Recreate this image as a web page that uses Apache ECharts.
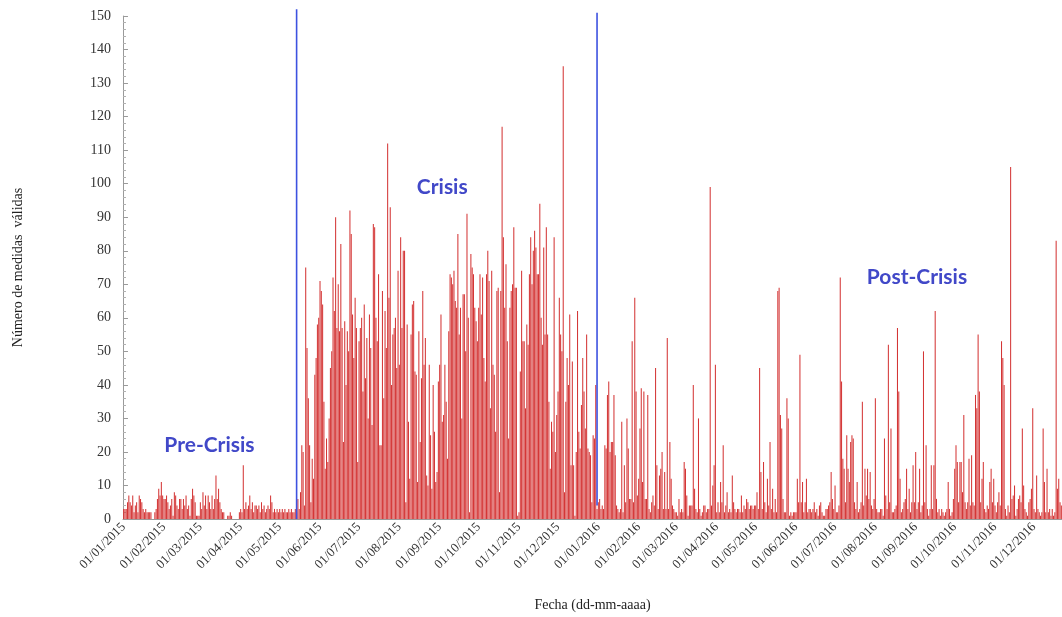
<!DOCTYPE html>
<html>
<head>
<meta charset="utf-8">
<script src="https://cdn.jsdelivr.net/npm/echarts@6/dist/echarts.min.js"></script>
<style>
html,body{margin:0;padding:0;background:#ffffff;overflow:hidden;width:100%;height:100%;}
#chart{width:100vw;height:100vh;}
</style>
</head>
<body>
<div id="chart"></div>
<script>
const jan15 = [3,3,3,5,7,5,4,7,2,4, 5,2,7,6,5,3,2,3,2,2, 2,2,0,0,2,3,6,9,7,11,7];
const feb15 = [6,6,7,5,3,4,6,1,8,7, 4,3,6,6,3,6,4,7,3,4, 1,6,9,7,5,1,1,1];
const mar15 = [5,3,8,4,7,3,7,5,3,7, 3,6,13,6,9,5,3,2,2,0, 0,1,1,2,1,0,0,0,0,0, 2];
const apr15 = [3,2,16,3,5,3,4,7,3,5, 2,4,4,3,4,2,5,3,4,2, 3,4,3,7,5,2,3,2,3,2];
const may15 = [3,2,3,2,3,2,2,3,2,3, 2,2,3,2,6,3,8,22,20,4, 75,51,36,22,5,18,12,43,48,58, 60];
const jun15 = [71,68,64,35,15,24,17,30,45,50, 72,62,90,57,70,56,82,57,23,59, 40,56,50,92,85,61,48,66,57,17];
const jul15 = [53,57,60,38,64,42,54,30,61,51, 28,88,87,60,53,73,22,22,68,36, 62,51,112,66,93,40,55,57,60,45, 74];
const aug15 = [46,84,57,80,80,5,58,29,12,55, 64,65,44,43,11,56,23,42,68,46, 54,13,10,46,25,9,40,26,11,14, 41];
const sep15 = [46,61,29,31,46,35,18,56,73,72, 70,74,65,63,85,55,63,30,67,67, 50,91,60,2,79,75,73,63,59,53];
const oct15 = [63,73,61,72,48,41,73,80,71,33, 74,46,43,26,68,69,8,68,117,84, 63,76,53,24,63,68,70,87,69,69, 1];
const nov15 = [2,44,74,53,53,33,58,52,73,84, 70,80,86,81,73,73,94,60,52,81, 55,87,55,35,15,29,26,84,20,31];
const dec15 = [38,66,55,50,135,8,35,48,40,61, 16,47,16,1,20,62,26,21,34,48, 38,27,55,21,20,19,5,25,24,40, 3];
const jan16 = [5,6,3,4,3,22,21,37,41,20, 23,23,37,19,4,3,2,3,29,2, 16,5,30,21,6,6,53,5,66,38, 7];
const feb16 = [12,27,39,11,38,6,6,37,3,2, 5,7,4,45,16,3,13,15,20,3, 14,3,54,3,23,12,4,3,2];
const mar16 = [2,1,6,2,3,2,17,15,7,1, 4,4,4,40,9,3,2,30,3,1, 2,4,4,2,3,3,99,4,10,16, 46];
const apr16 = [2,5,2,11,5,22,2,4,8,2, 3,2,13,5,3,2,3,3,2,7, 2,4,3,6,5,3,4,4,3,4];
const may16 = [4,8,3,45,14,3,17,5,2,12, 4,23,3,9,2,6,2,68,69,31, 27,6,2,2,36,30,1,2,1,2, 2];
const jun16 = [2,12,5,49,5,11,2,5,12,2, 3,3,2,3,5,2,3,1,4,5, 2,1,1,3,3,4,5,14,6,3];
const jul16 = [10,2,2,4,72,41,18,15,5,25, 15,11,23,25,24,5,3,11,2,3, 5,35,4,15,7,15,6,14,4,3, 6];
const aug16 = [36,3,2,2,3,3,1,24,7,3, 52,5,27,2,2,3,4,57,38,12, 2,3,5,6,15,3,9,2,5,16, 5];
const sep16 = [20,3,5,15,2,4,50,5,22,3, 1,3,16,3,16,62,6,2,3,1, 3,2,1,2,3,11,3,1,2,6];
const oct16 = [15,22,17,5,17,17,8,31,5,3, 5,18,4,19,5,4,37,33,55,38, 5,12,17,3,2,4,3,11,15,5, 12];
const nov16 = [4,2,5,8,4,53,48,40,3,1, 4,2,105,6,7,10,1,3,6,7, 5,27,10,3,2,1,5,6,9,33];
const dec16 = [3,2,13,3,2,1,2,27,11,2, 15,2,3,1,3,1,2,83,9,12, 5,4]; // visible part only

// ---- Axis settings ----
const yMin = 0, yMax = 150, yStep = 10;
const firstDay = [2015, 0, 1]; // 01/01/2015

// ---- Phase separators and labels ----
const phaseBreaks = [
  { date: '14/05/2015', from: 0, to: 152 },
  { date: '31/12/2015', from: 4, to: 151 }
];
const phaseLabels = [
  { text: 'Pre-Crisis',  date: '08/03/2015', value: 22 },
  { text: 'Crisis',      date: '03/09/2015', value: 99 },
  { text: 'Post-Crisis', date: '02/09/2016', value: 72 }
];

// ---- Build series and categories ----
const values = [].concat(jan15, feb15, mar15, apr15, may15, jun15, jul15, aug15, sep15, oct15, nov15, dec15,
                         jan16, feb16, mar16, apr16, may16, jun16, jul16, aug16, sep16, oct16, nov16, dec16);
function pad(n){ return (n < 10 ? '0' : '') + n; }
const categories = [];
const t0 = Date.UTC(firstDay[0], firstDay[1], firstDay[2]);
for (let i = 0; i < values.length; i++) {
  const d = new Date(t0 + i * 86400000);
  categories.push(pad(d.getUTCDate()) + '/' + pad(d.getUTCMonth() + 1) + '/' + d.getUTCFullYear());
}

const serif = '"Liberation Serif", "DejaVu Serif", serif';
const chart = echarts.init(document.getElementById('chart'), null, { renderer: 'canvas' });
chart.setOption({
  animation: false,
  backgroundColor: '#ffffff',
  grid: { left: '11.58%', right: 0, top: '2.6%', bottom: '14.9%', containLabel: false },
  xAxis: {
    type: 'category',
    data: categories,
    boundaryGap: true,
    name: 'Fecha (dd-mm-aaaa)',
    nameLocation: 'middle',
    nameGap: 79,
    nameTextStyle: { fontFamily: serif, fontSize: 14, color: '#222' },
    axisLine: { show: true, lineStyle: { color: '#9a9a9a', width: 1 } },
    axisTick: { show: false },
    axisLabel: {
      interval: function (idx, val) { return val.slice(0, 3) === '01/'; },
      rotate: 45,
      margin: 6,
      fontFamily: serif,
      fontSize: 13,
      color: '#333'
    },
    splitLine: { show: false }
  },
  yAxis: {
    type: 'value',
    min: yMin, max: yMax, interval: yStep,
    name: 'Número de medidas  válidas',
    nameLocation: 'middle',
    nameGap: 98,
    nameTextStyle: { fontFamily: serif, fontSize: 14, color: '#222' },
    axisLine: { show: true, lineStyle: { color: '#9a9a9a', width: 1 } },
    axisTick: { show: true, inside: true, length: 5, lineStyle: { color: '#9a9a9a' } },
    minorTick: { show: true, splitNumber: 5, length: 3, lineStyle: { color: '#b0b0b0' } },
    axisLabel: { fontFamily: serif, fontSize: 14, color: '#333', margin: 12 },
    splitLine: { show: false }
  },
  series: [{
    type: 'bar',
    data: values,
    barCategoryGap: '20%',
    itemStyle: { color: '#d43636' },
    silent: true
  }]
});

// Overlay separators and phase labels positioned through the chart's own scales
const graphics = [];
phaseBreaks.forEach(function (b) {
  const p1 = chart.convertToPixel({ xAxisIndex: 0, yAxisIndex: 0 }, [b.date, b.from]);
  const p2 = chart.convertToPixel({ xAxisIndex: 0, yAxisIndex: 0 }, [b.date, b.to]);
  graphics.push({
    type: 'line', silent: true, z: 10,
    shape: { x1: p1[0], y1: p1[1], x2: p2[0], y2: p2[1] },
    style: { stroke: '#3d52e0', lineWidth: 1.6 }
  });
});
phaseLabels.forEach(function (l) {
  const p = chart.convertToPixel({ xAxisIndex: 0, yAxisIndex: 0 }, [l.date, l.value]);
  graphics.push({
    type: 'text', silent: true, z: 11,
    style: {
      text: l.text, x: p[0], y: p[1],
      align: 'center', verticalAlign: 'middle',
      fill: '#4148c8',
      font: 'bold 21px Lato, "Open Sans", sans-serif'
    }
  });
});
chart.setOption({ graphic: graphics });
</script>
</body>
</html>
